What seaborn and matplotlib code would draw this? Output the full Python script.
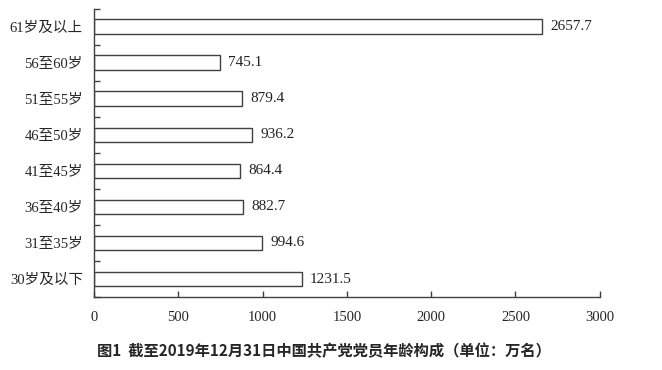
import numpy as np
import pandas as pd
import matplotlib
matplotlib.use("Agg")
import matplotlib.pyplot as plt
import seaborn as sns
import matplotlib.ticker as ticker

# 数据
age_groups = ['61岁及以上', '56至60岁', '51至55岁', '46至50岁',
              '41至45岁', '36至40岁', '31至35岁', '30岁及以下']
members = [2657.7, 745.1, 879.4, 936.2, 864.4, 882.7, 994.6, 1231.5]
x_ticks = [0, 500, 1000, 1500, 2000, 2500, 3000]

df = pd.DataFrame({'group': age_groups, 'value': members})

sns.set_style('white')
plt.rcParams['font.family'] = ['Liberation Serif', 'Noto Sans CJK SC']
plt.rcParams['axes.unicode_minus'] = False
plt.rcParams['xtick.bottom'] = True
plt.rcParams['ytick.left'] = True

fig = plt.figure(figsize=(6.62, 3.70), dpi=100)
ax = fig.add_axes([0.142, 0.197, 0.764, 0.78])

sns.barplot(data=df, x='value', y='group', order=age_groups, orient='h',
            color='white', edgecolor='#404040', linewidth=1.0, width=0.4, ax=ax)

for i, v in enumerate(members):
    ax.text(v + 50, i, f'{v:.1f}', va='center', ha='left', fontsize=11, color='#222222')

ax.set_xlim(0, 3000)
ax.set_ylim(7.5, -0.5)
ax.set_xticks(x_ticks)
ax.set_xticklabels([str(t) for t in x_ticks], fontsize=10.5)
ax.yaxis.set_minor_locator(ticker.FixedLocator(np.arange(-0.5, 8, 1)))
ax.tick_params(axis='y', which='major', left=True, length=0, pad=8, labelsize=10.5)
ax.tick_params(axis='y', which='minor', left=True, direction='in', length=4, width=1,
               color='#404040')
ax.tick_params(axis='x', which='major', bottom=True, direction='in', length=4, width=1,
               color='#404040', pad=10, labelsize=10.5)
ax.set_xlabel('')
ax.set_ylabel('')

for side in ['top', 'right']:
    ax.spines[side].set_visible(False)
for side in ['left', 'bottom']:
    ax.spines[side].set_color('#404040')
    ax.spines[side].set_linewidth(1.0)

fig.text(0.49, 0.052, '图1  截至2019年12月31日中国共产党党员年龄构成（单位：万名）',
         ha='center', va='center', fontsize=11, fontweight='bold',
         family=['Noto Sans CJK SC', 'DejaVu Sans'])

fig.savefig('out.png', dpi=100)
